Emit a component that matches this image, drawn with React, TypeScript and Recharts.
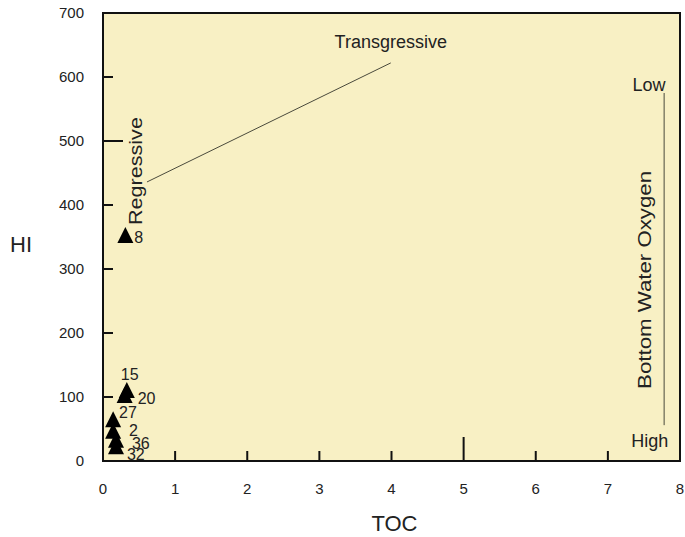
import {
  Label,
  LabelList,
  ReferenceArea,
  ReferenceDot,
  ReferenceLine,
  Scatter,
  ScatterChart,
  XAxis,
  YAxis,
} from "recharts";

const sampleIds = ["8", "15", "20", "27", "2", "36", "32"];
const tocValues = [0.31, 0.33, 0.3, 0.14, 0.14, 0.18, 0.18];
const hiValues = [350, 108, 100, 62, 44, 30, 20];

const xTicks = [0, 1, 2, 3, 4, 5, 6, 7, 8];
const yTicks = [0, 100, 200, 300, 400, 500, 600, 700];

const transgressiveLine = [
  { x: 0.61, y: 436 },
  { x: 3.99, y: 622 },
];
const oxygenLine = [
  { x: 7.78, y: 575 },
  { x: 7.78, y: 56 },
];

const points = sampleIds.map((id, i) => ({ id, toc: tocValues[i], hi: hiValues[i] }));

const FONT = "'Liberation Sans', Arial, sans-serif";
const TEXT = "#222";
const PLOT_BG = "#f8f0c4";

// label offsets from the triangle centre
const labelOffset: Record<string, [number, number]> = {
  "8": [9, 6],
  "15": [-6, -12],
  "20": [13, 7],
  "27": [6, -3],
  "2": [16, 3],
  "36": [16, 7],
  "32": [11, 12],
};

function XTick({ x, y, payload }: any) {
  const len = payload.value === 5 ? 24 : 10;
  return (
    <g>
      <line x1={x} x2={x} y1={y} y2={y - len} stroke="#111" strokeWidth={2} />
      <text x={x} y={y + 33} textAnchor="middle" fontSize={15} fontFamily={FONT} fill={TEXT}>
        {payload.value}
      </text>
    </g>
  );
}

function YTick({ x, y, payload }: any) {
  const len = payload.value === 500 ? 20 : 10;
  return (
    <g>
      <line x1={x} x2={x + len} y1={y} y2={y} stroke="#111" strokeWidth={2} />
      <text x={x - 19} y={y + 5} textAnchor="end" fontSize={15} fontFamily={FONT} fill={TEXT}>
        {payload.value}
      </text>
    </g>
  );
}

function Triangle({ cx, cy }: any) {
  return <path d={`M${cx},${cy - 10}L${cx - 8},${cy + 6}L${cx + 8},${cy + 6}Z`} fill="#000" />;
}

function PointLabel({ x, y, width, height, value }: any) {
  const cx = x + width / 2;
  const cy = y + height / 2;
  const [dx, dy] = labelOffset[value] ?? [10, 5];
  return (
    <text x={cx + dx} y={cy + dy} fontSize={16} fontFamily={FONT} fill={TEXT}>
      {value}
    </text>
  );
}

function note(text: string, rotate = false, length?: number) {
  return (props: any) => {
    const { viewBox } = props;
    const cx = viewBox.x + viewBox.width / 2;
    const cy = viewBox.y + viewBox.height / 2;
    return (
      <text
        x={cx}
        y={cy}
        textAnchor="middle"
        dominantBaseline="central"
        fontSize={18}
        fontFamily={FONT}
        fill={TEXT}
        transform={rotate ? `rotate(-90, ${cx}, ${cy})` : undefined}
        textLength={length}
        lengthAdjust={length ? "spacingAndGlyphs" : undefined}
      >
        {text}
      </text>
    );
  };
}

export default function App() {
  return (
    <div style={{ position: "absolute", left: 0, top: 0 }}>
      <ScatterChart width={685} height={537} margin={{ top: 13, right: 5, left: 0, bottom: 0 }}>
        <XAxis
          type="number"
          dataKey="toc"
          domain={[0, 8]}
          ticks={xTicks}
          height={76}
          tickSize={0}
          tickMargin={0}
          tickLine={false}
          axisLine={{ stroke: "#111", strokeWidth: 2 }}
          tick={<XTick />}
        >
          <Label
            content={({ viewBox }: any) => (
              <text
                x={viewBox.x + viewBox.width / 2 + 3}
                y={viewBox.y + 70}
                textAnchor="middle"
                fontSize={22}
                fontFamily={FONT}
                fill={TEXT}
              >
                TOC
              </text>
            )}
          />
        </XAxis>
        <YAxis
          type="number"
          dataKey="hi"
          domain={[0, 700]}
          ticks={yTicks}
          width={103}
          tickSize={0}
          tickMargin={0}
          tickLine={false}
          axisLine={{ stroke: "#111", strokeWidth: 2 }}
          tick={<YTick />}
        >
          <Label
            content={({ viewBox }: any) => (
              <text
                x={viewBox.x + 21}
                y={viewBox.y + viewBox.height / 2 + 15}
                textAnchor="middle"
                fontSize={22}
                fontFamily={FONT}
                fill={TEXT}
              >
                HI
              </text>
            )}
          />
        </YAxis>
        <ReferenceArea x1={0} x2={8} y1={0} y2={700} fill={PLOT_BG} fillOpacity={1} stroke="#111" strokeWidth={2} />
        <ReferenceLine segment={transgressiveLine} stroke="#4a4a3c" strokeWidth={1} />
        <ReferenceLine segment={oxygenLine} stroke="#4a4a3c" strokeWidth={1} />
        <ReferenceDot x={3.99} y={655} r={0} stroke="none" label={note("Transgressive")} />
        <ReferenceDot x={0.46} y={453} r={0} stroke="none" label={note("Regressive", true, 108)} />
        <ReferenceDot x={7.57} y={588} r={0} stroke="none" label={note("Low")} />
        <ReferenceDot x={7.58} y={31} r={0} stroke="none" label={note("High")} />
        <ReferenceDot x={7.51} y={283} r={0} stroke="none" label={note("Bottom Water Oxygen", true, 218)} />
        <Scatter data={points} shape={<Triangle />} isAnimationActive={false}>
          <LabelList dataKey="id" content={<PointLabel />} />
        </Scatter>
      </ScatterChart>
    </div>
  );
}
